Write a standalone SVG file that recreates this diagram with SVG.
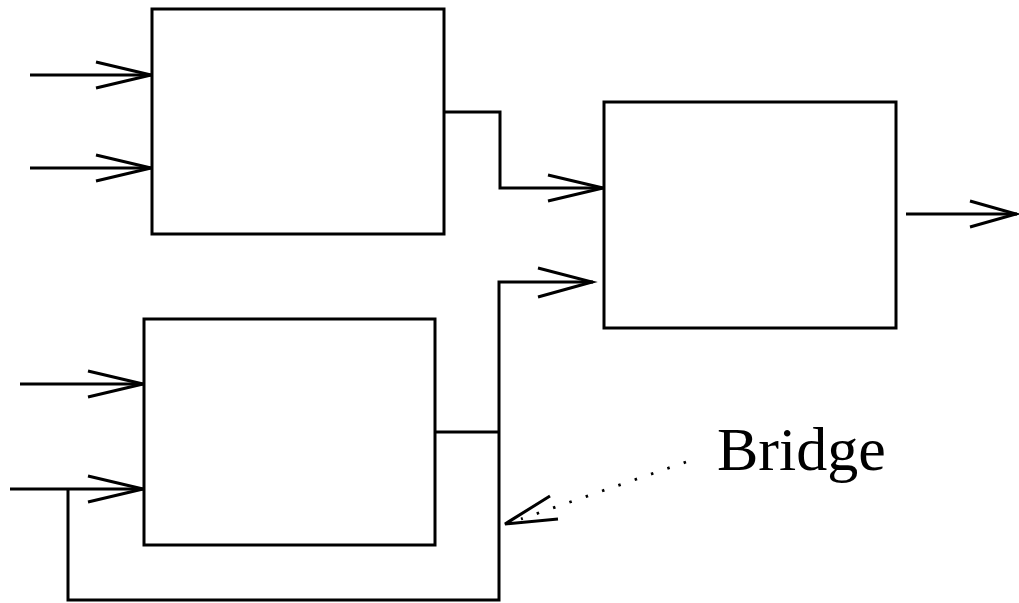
<svg xmlns="http://www.w3.org/2000/svg" width="1019" height="603" viewBox="0 0 1019 603">
  <style>
    .box { fill: #fff; stroke: #000; stroke-width: 3; }
    .wire { fill: none; stroke: #000; stroke-width: 3; stroke-linejoin: miter; }
    .head { fill: none; stroke: #000; stroke-width: 3; stroke-linejoin: miter; }
    .dots { fill: none; stroke: #000; stroke-width: 2.8; stroke-dasharray: 2.5 14.77; }
    .label { font-family: "Liberation Serif", "Times New Roman", serif; font-size: 62px; fill: #000; }
  </style>
  <rect width="1019" height="603" fill="#fff"/>

  <g id="connectors">
    <!-- inputs to upper block -->
    <line class="wire" x1="30" y1="75" x2="152" y2="75"/>
    <polyline class="head" points="96,62 151,75 96,88"/>
    <line class="wire" x1="30" y1="168" x2="152" y2="168"/>
    <polyline class="head" points="96,155 151,168 96,181"/>
    <!-- upper block to right block -->
    <polyline class="wire" points="444,112 500,112 500,188 604,188"/>
    <polyline class="head" points="548,175 603,188 548,201"/>
    <!-- lower block output, fed forward and back -->
    <polyline class="wire" points="435,432 499,432"/>
    <polyline class="wire" points="593,282 499,282 499,600 68,600 68,489"/>
    <polyline class="head" points="538,268 592,282 538,297"/>
    <!-- inputs to lower block -->
    <line class="wire" x1="20" y1="384" x2="144" y2="384"/>
    <polyline class="head" points="88,371 143,384 88,397"/>
    <line class="wire" x1="10" y1="489" x2="144" y2="489"/>
    <polyline class="head" points="88,476 143,489 88,502"/>
    <!-- output of right block -->
    <line class="wire" x1="906" y1="214" x2="1017" y2="214"/>
    <polyline class="head" points="970,201 1016,214 970,227"/>
    <!-- bridge pointer -->
    <line class="dots" x1="686" y1="462" x2="521" y2="519"/>
    <polyline class="head" points="550,496 505,524 558,519"/>
  </g>

  <g id="block-upper">
    <rect class="box" x="152" y="9" width="292" height="225"/>
  </g>
  <g id="block-right">
    <rect class="box" x="604" y="102" width="292" height="226"/>
  </g>
  <g id="block-lower">
    <rect class="box" x="144" y="319" width="291" height="226"/>
  </g>
  <g id="bridge-label">
    <text class="label" x="717" y="470">Bridge</text>
  </g>
</svg>
